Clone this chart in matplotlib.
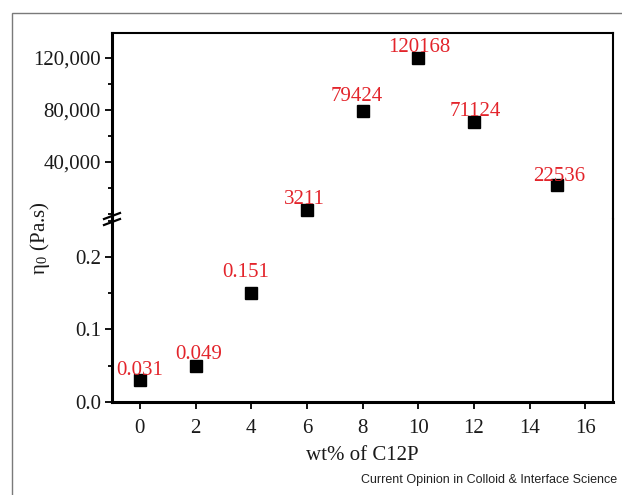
import matplotlib
matplotlib.use("Agg")
import matplotlib.pyplot as plt
from matplotlib.patches import Rectangle
from matplotlib.lines import Line2D
from matplotlib.ticker import MultipleLocator, FuncFormatter

plt.rcParams['font.family'] = ['Liberation Serif', 'DejaVu Serif']
plt.rcParams['mathtext.fontset'] = 'stix'

# ---- data ----
wt = [0, 2, 4, 6, 8, 10, 12, 15]
eta0 = [0.031, 0.049, 0.151, 3211, 79424, 120168, 71124, 22536]
point_labels = ['0.031', '0.049', '0.151', '3211', '79424', '120168', '71124', '22536']
x_ticks = [0, 2, 4, 6, 8, 10, 12, 14, 16]
upper_ticks = [40000, 80000, 120000]
lower_ticks = [0.0, 0.1, 0.2]

# label offsets (pixels) for annotations
offsets = [(0, 5), (3, 7), (-5, 16), (-2, 6), (-6, 10), (1, 6), (1, 6), (2, 4)]

W, H = 622, 495
fig = plt.figure(figsize=(W / 100, H / 100), dpi=100)

left = 112 / W
right = 613 / W
top = 1 - 33 / H
brk = 1 - 219 / H
bottom = 1 - 402 / H

ax_up = fig.add_axes([left, brk, right - left, top - brk])
ax_lo = fig.add_axes([left, bottom, right - left, brk - bottom], sharex=ax_up)

tick_col = '#1a1a1a'
red = '#e3242b'

for ax in (ax_up, ax_lo):
    ax.spines['left'].set_linewidth(2.2)
    ax.spines['right'].set_linewidth(1.5)
    ax.spines['top'].set_linewidth(1.5)
    ax.spines['bottom'].set_linewidth(2.2)
    ax.tick_params(axis='both', which='major', direction='out', length=5, width=1.3,
                   labelsize=15, colors='black', labelcolor=tick_col, pad=3)
    ax.tick_params(axis='both', which='minor', direction='out', length=3, width=1.3)
    ax.tick_params(right=False, top=False)

ax_up.spines['bottom'].set_visible(False)
ax_lo.spines['top'].set_visible(False)

ax_up.set_xlim(-1, 17)
ax_up.set_ylim(-3850, 139200)
ax_lo.set_ylim(0, 0.2524)

ax_up.set_yticks(upper_ticks)
ax_up.yaxis.set_minor_locator(MultipleLocator(20000))
ax_up.yaxis.set_major_formatter(FuncFormatter(lambda v, p: f"{int(v):,}"))
ax_up.tick_params(axis='x', which='both', bottom=False, labelbottom=False)

ax_lo.set_yticks(lower_ticks)
ax_lo.set_yticklabels([f"{v:.1f}" for v in lower_ticks])
ax_lo.yaxis.set_minor_locator(MultipleLocator(0.05))
ax_lo.set_xticks(x_ticks)
ax_lo.set_xticklabels([str(v) for v in x_ticks])
ax_lo.tick_params(axis='x', which='minor', bottom=False)
ax_lo.tick_params(axis='x', which='major', pad=7)

# points
for xv, yv, lab, (dx, dy) in zip(wt, eta0, point_labels, offsets):
    ax = ax_lo if yv < 1 else ax_up
    ax.plot([xv], [yv], marker='s', ms=8, color='black', linestyle='none', clip_on=False)
    ax.annotate(lab, (xv, yv), xytext=(dx, dy), textcoords='offset pixels',
                ha='center', va='baseline', color=red, fontsize=15,
                annotation_clip=False)

# axis labels
ax_lo.set_xlabel('wt% of C12P', fontsize=15, color=tick_col, labelpad=6)
fig.text(40 / W, 1 - 238 / H, 'η$_\\mathregular{0}$ (Pa.s)', rotation=90, ha='center',
         va='center', fontsize=15, color=tick_col)

# break marks on left spine
for cy in (216, 222):
    x0, x1 = 104 / W, 120 / W
    y0, y1 = 1 - (cy + 3) / H, 1 - (cy - 3) / H
    fig.add_artist(Line2D([x0, x1], [y0, y1], transform=fig.transFigure,
                          color='black', lw=1.6))

# outer frame (cropped)
fig.add_artist(Rectangle((12 / W, -0.2), 1.2, (1 - 13 / H) + 0.2, transform=fig.transFigure,
                         fill=False, ec='#7a7a7a', lw=1.0))

fig.text(617 / W, 1 - 480 / H, 'Current Opinion in Colloid & Interface Science',
         ha='right', va='center', fontsize=9, family='Liberation Sans', color='#222222')

fig.savefig('out.png', dpi=100)
